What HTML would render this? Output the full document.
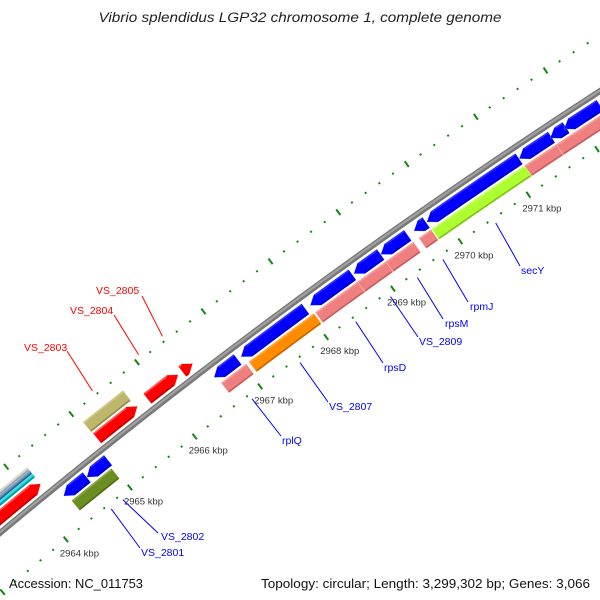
<!DOCTYPE html>
<html><head><meta charset="utf-8">
<style>
html,body{margin:0;padding:0;background:#fff;width:600px;height:600px;overflow:hidden;}
svg{display:block;overflow:hidden;}
text{font-family:"Liberation Sans",sans-serif;}
</style></head>
<body>
<svg id="map" width="600" height="600" viewBox="0 0 600 600" xmlns="http://www.w3.org/2000/svg">
<rect x="0" y="0" width="600" height="600" fill="#fff"/>
<g id="rulers"></g>
<g id="backbone"></g>
<g id="features"></g>
<g id="labels"></g>
<text x="300" y="22" text-anchor="middle" font-size="13.5" font-style="italic" fill="#222" textLength="403" lengthAdjust="spacingAndGlyphs">Vibrio splendidus LGP32 chromosome 1, complete genome</text>
<text x="9" y="588" font-size="13" fill="#111" textLength="134" lengthAdjust="spacingAndGlyphs">Accession: NC_011753</text>
<text x="590" y="588" text-anchor="end" font-size="13" fill="#111" textLength="329" lengthAdjust="spacingAndGlyphs">Topology: circular; Length: 3,299,302 bp; Genes: 3,066</text>
</svg>
<script>
// ---- data (kbp) ----
const rulerKbpMin = 2962;
const rulerKbpMax = 2974;
const rulerLabelKbp = [2964, 2965, 2966, 2967, 2968, 2969, 2970, 2971];
const innerArrowStart = [2964.31, 2964.67, 2966.62, 2967.03, 2968.07, 2968.72, 2969.12, 2969.61, 2969.80, 2971.15, 2971.60, 2971.80, 2972.32];
const innerArrowEnd   = [2964.67, 2965.00, 2966.98, 2968.00, 2968.70, 2969.12, 2969.52, 2969.79, 2971.15, 2971.62, 2971.83, 2972.32, 2973.30];
const innerCogStart = [2964.35, 2966.65, 2967.07, 2968.07, 2968.70, 2969.12, 2969.61, 2969.80, 2971.16, 2971.62];
const innerCogEnd   = [2964.97, 2967.03, 2968.05, 2968.70, 2969.12, 2969.53, 2969.79, 2971.16, 2971.62, 2973.30];
const innerCogClass = ['olive', 'pink', 'orange', 'pink', 'pink', 'pink', 'pink', 'green', 'pink', 'pink'];
const outerArrowStart = [2962.80, 2965.06, 2965.83, 2966.36];
const outerArrowEnd   = [2964.19, 2965.68, 2966.30, 2966.52];
const outerCogStart = [2962.80, 2965.05];
const outerCogEnd   = [2964.19, 2965.66];
const outerCogClass = ['multi', 'khaki'];
const labelNames = ['VS_2805', 'VS_2804', 'VS_2803', 'rplQ', 'VS_2807', 'rpsD', 'VS_2809', 'rpsM', 'rpmJ', 'secY', 'VS_2802', 'VS_2801'];
const labelKbp = [2966.43, 2966.07, 2965.37, 2966.83, 2967.56, 2968.40, 2968.92, 2969.32, 2969.70, 2970.48, 2964.84, 2964.66];
const labelStrand = ['+', '+', '+', '-', '-', '-', '-', '-', '-', '-', '-', '-'];

// ---- layout ----
const TX = [96, 70, 24, 282, 329, 384, 419, 445, 470, 521, 161, 141];
const TY = [290, 310, 347, 440, 406, 367, 341, 323, 306, 270, 536, 552];
const LX = [142, 114, 67, 281, 328, 383, 418, 443, 468, 520, 158, 140];
const LY = [296, 315, 351, 436, 402, 363, 337, 319, 302, 266, 533, 548];
const CX = 3947.7, CY = 5265.6, R0 = 6163, TH0 = -2.25841, DTH = 0.013477;
const COLORS = {
  blue: ['#0000ff', '#3030ff', '#0000c0'],
  red: ['#ff0000', '#ff5050', '#c00000'],
  pink: ['#f08080', '#f5a0a0', '#c06060'],
  orange: ['#ff8c00', '#ffa840', '#c06a00'],
  green: ['#adff2f', '#c8ff70', '#80c020'],
  olive: ['#6b8e23', '#88a840', '#4e6c18'],
  khaki: ['#bdb76b', '#d0cb8c', '#918c50']
};
const NS = 'http://www.w3.org/2000/svg';
function pt(k, r) {
  const t = TH0 + (k - 2964) * DTH;
  return [CX + (R0 + r) * Math.cos(t), CY + (R0 + r) * Math.sin(t)];
}
function arcPts(a, b, r) {
  const n = Math.max(2, Math.ceil(Math.abs(b - a) / 0.1) + 1);
  const out = [];
  for (let i = 0; i < n; i++) out.push(pt(a + (b - a) * i / (n - 1), r));
  return out;
}
function fmt(pts) { return pts.map(p => p[0].toFixed(2) + ',' + p[1].toFixed(2)).join(' '); }
function mk(tag, parent, attrs) {
  const e = document.createElementNS(NS, tag);
  for (const k in attrs) e.setAttribute(k, attrs[k]);
  parent.appendChild(e);
  return e;
}
const HEAD = 0.11;
function drawBlock(g, a, b, r1, r2, col, dir, name) {
  let pts, ba = a, bb = b;
  const h = Math.min(HEAD, b - a);
  const mid = (r1 + r2) / 2;
  if (dir === 1) {
    bb = b - h;
    pts = arcPts(a, bb, r2).concat([pt(b, mid)]).concat(arcPts(bb, a, r1));
  } else if (dir === -1) {
    ba = a + h;
    pts = [pt(a, mid)].concat(arcPts(ba, b, r2)).concat(arcPts(b, ba, r1));
  } else {
    pts = arcPts(a, b, r2).concat(arcPts(b, a, r1));
  }
  const p = mk('polygon', g, { points: fmt(pts), fill: col[0], stroke: 'rgba(255,255,255,0.6)', 'stroke-width': '0.4' });
  
  
  if (bb - ba > 0.02) {
    const hi = mk('polyline', g, { points: fmt(arcPts(ba + 0.01, bb - 0.01, r2 - 1)), fill: 'none', stroke: col[1], 'stroke-width': '1.6' });
    
    
    const sh = mk('polyline', g, { points: fmt(arcPts(ba + 0.01, bb - 0.01, r1 + 1)), fill: 'none', stroke: col[2], 'stroke-width': '1.6' });
    
    
  }
}

// rulers
const rul = document.getElementById('rulers');
[-47, 47].forEach(function (rr) {
  for (let i = 0; i <= (rulerKbpMax - rulerKbpMin) * 5; i++) {
    const k = rulerKbpMin + i * 0.2;
    const major = (i % 5 === 0);
    const L = major ? 3.5 : 1;
    const p1 = pt(k, rr - L), p2 = pt(k, rr + L);
    const t = mk('line', rul, { x1: p1[0], y1: p1[1], x2: p2[0], y2: p2[1], stroke: '#118811', 'stroke-width': '2' });
    
    
  }
});
rulerLabelKbp.forEach(function (k) {
  const p = pt(k, -47);
  const t = mk('text', rul, { x: p[0] - 6, y: p[1] + 17, 'font-size': '9.5', fill: '#333' });
  t.textContent = k + ' kbp';
  
  
});

// backbone
const bbg = document.getElementById('backbone');
const bl = mk('polyline', bbg, { points: fmt(arcPts(rulerKbpMin, rulerKbpMax, 0)), fill: 'none', stroke: '#787878', 'stroke-width': '6' });


const bl2 = mk('polyline', bbg, { points: fmt(arcPts(rulerKbpMin, rulerKbpMax, 0.6)), fill: 'none', stroke: '#a0a0a0', 'stroke-width': '2.2' });



// features
const fg = document.getElementById('features');
for (let i = 0; i < innerCogStart.length; i++) {
  drawBlock(fg, innerCogStart[i], innerCogEnd[i], -33.5, -20.5, COLORS[innerCogClass[i]], 0, 'inner-cog-feature');
}
for (let i = 0; i < innerArrowStart.length; i++) {
  drawBlock(fg, innerArrowStart[i], innerArrowEnd[i], -18.5, -5.5, COLORS.blue, -1, 'reverse-gene-arrow');
}
for (let i = 0; i < outerArrowStart.length; i++) {
  drawBlock(fg, outerArrowStart[i], outerArrowEnd[i], 5.5, 18.5, COLORS.red, 1, 'forward-gene-arrow');
}
for (let i = 0; i < outerCogStart.length; i++) {
  if (outerCogClass[i] === 'multi') {
    drawBlock(fg, outerCogStart[i], outerCogEnd[i], 29.2, 33.5, ['#c4c4c4', '#dddddd', '#a0a0a0'], 0, 'outer-cog-stripe-gray');
    drawBlock(fg, outerCogStart[i], outerCogEnd[i], 24.9, 29.2, ['#4682b4', '#6fa0c8', '#33648c'], 0, 'outer-cog-stripe-steelblue');
    drawBlock(fg, outerCogStart[i], outerCogEnd[i], 20.5, 24.9, ['#00ced1', '#40e0e0', '#009ca0'], 0, 'outer-cog-stripe-cyan');
  } else {
    drawBlock(fg, outerCogStart[i], outerCogEnd[i], 20.5, 33.5, COLORS[outerCogClass[i]], 0, 'outer-cog-feature');
  }
}

// labels
const lg = document.getElementById('labels');
for (let i = 0; i < labelNames.length; i++) {
  const col = labelStrand[i] === '+' ? '#ff0000' : '#0000ff';
  const s = pt(labelKbp[i], labelStrand[i] === '+' ? 52 : -52);
  const ln = mk('line', lg, { x1: s[0], y1: s[1], x2: LX[i], y2: LY[i], stroke: col, 'stroke-width': '1' });
  
  
  const t = mk('text', lg, { x: TX[i], y: TY[i] + 4, 'font-size': '10.5', fill: col });
  t.textContent = labelNames[i];
  
  
}
</script>
</body></html>
